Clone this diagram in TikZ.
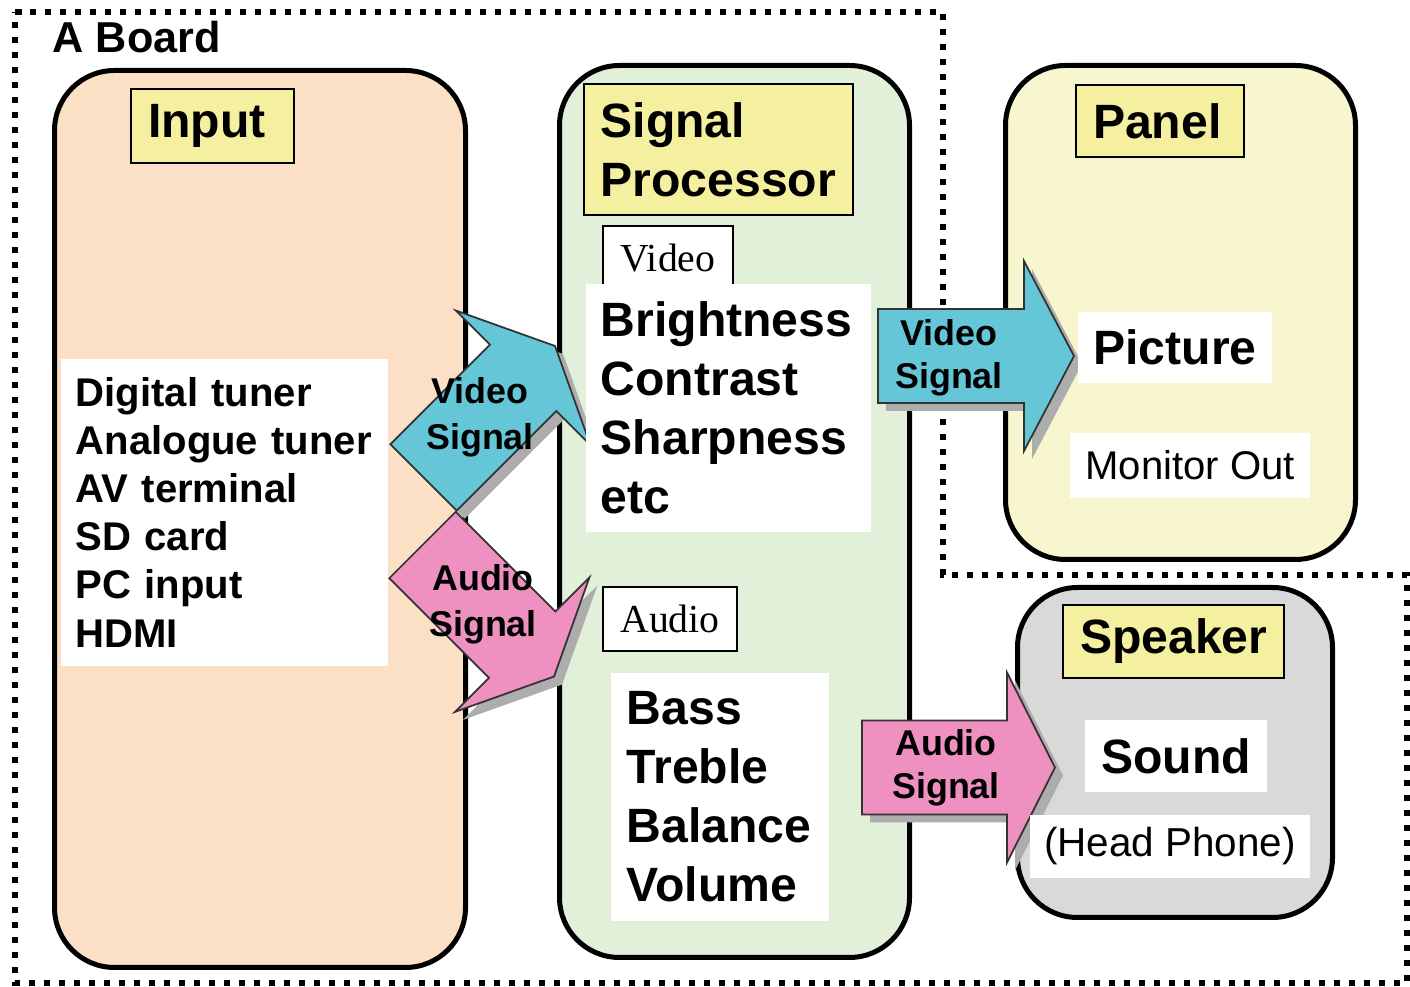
\documentclass[tikz,border=0pt]{standalone}
\usepackage{fontspec}
\setmainfont{Liberation Sans}
\newfontfamily\serifface{Liberation Serif}
\tikzset{
    board/.style={
        draw, line width=0.5mm, rounded corners=6mm,
        anchor=north west, inner sep=0pt
    },
    board_frame/.style={
        line width=0.6mm, dash pattern=on 0.65mm off 0.85mm
    },
    tagbox/.style={
        draw, line width=0.6pt, fill=tag_yellow,
        anchor=north west, inner xsep=1.7mm, inner ysep=0pt,
        align=left, font=\bfseries\fontsize{13.7}{16.8}\selectfont
    },
    listbox/.style={
        fill=white, anchor=north west, inner xsep=1.5mm, inner ysep=0pt,
        align=left, font=\bfseries\fontsize{13.7}{16.8}\selectfont
    },
    itembox/.style={
        fill=white, inner sep=0pt, align=center,
        font=\bfseries\fontsize{13.7}{16.8}\selectfont
    },
    notebox/.style={
        itembox, font=\fontsize{11.4}{13.7}\selectfont
    },
    kindbox/.style={
        itembox, draw, line width=0.6pt,
        font=\serifface\fontsize{11.3}{13.5}\selectfont
    },
    siglabel/.style={
        align=center, inner sep=0pt,
        font=\bfseries\fontsize{10.2}{12.2}\selectfont
    },
    pics/sigarrow/.style n args={3}{code={
        \path[#3] (0,-47) -- (#1,-47) -- (#1,-95) -- ({#1+#2},0)
            -- (#1,95) -- (#1,47) -- (0,47) -- cycle;
    }},
    video_arrow/.style={fill=video_cyan, draw=black!80, line width=0.5pt},
    audio_arrow/.style={fill=audio_pink, draw=black!80, line width=0.5pt},
    arrow_shadow/.style={fill=black!32, draw=none}
}
\definecolor{input_peach}{RGB}{251,224,197}
\definecolor{proc_green}{RGB}{226,240,218}
\definecolor{panel_yellow}{RGB}{247,246,206}
\definecolor{speaker_gray}{RGB}{217,217,217}
\definecolor{tag_yellow}{RGB}{244,240,160}
\definecolor{video_cyan}{RGB}{100,198,214}
\definecolor{audio_pink}{RGB}{238,145,192}

\begin{document}
\begin{tikzpicture}[x=0.1mm, y=-0.1mm]
    \useasboundingbox (0,0) rectangle (1410,987);

    % --- Marco de la placa A ---
    \draw[board_frame] (15,12) -- (943,12) -- (943,575) -- (1407,575)
        -- (1407,983) -- (15,983) -- cycle;
    \node[anchor=base west, inner sep=0pt,
        font=\bfseries\fontsize{12.3}{14}\selectfont] (aboard) at (52,53) {A Board};

    % --- Bloques principales ---
    \node[board, fill=input_peach, minimum width=41.1mm, minimum height=89.7mm]
        (input) at (52,68) {};
    \node[board, fill=proc_green, minimum width=35mm, minimum height=89.2mm]
        (proc) at (557,63) {};
    \node[board, fill=panel_yellow, minimum width=35mm, minimum height=49.4mm]
        (panel) at (1003,63) {};
    \node[board, fill=speaker_gray, minimum width=31.5mm, minimum height=33mm]
        (speaker) at (1015,585) {};

    % --- Titulos ---
    \node[tagbox, text width=12.9mm, minimum height=7.4mm] (input_tag) at (130,88) {Input};
    \node[tagbox, text width=23.6mm, inner xsep=1.65mm, minimum height=13.1mm]
        (proc_tag) at (583,83) {Signal\\Processor};
    \node[tagbox, text width=13.4mm, minimum height=7.2mm] (panel_tag) at (1075,84) {Panel};
    \node[tagbox, text width=18.7mm, inner xsep=1.7mm, minimum height=7.3mm]
        (speaker_tag) at (1062,604) {Speaker};

    % --- Flechas de senal (sombra primero) ---
    \pic[rotate=45] at (431.5,485.5) {sigarrow={141}{45}{arrow_shadow}};
    \pic[rotate=-45] at (430.5,553) {sigarrow={141}{45}{arrow_shadow}};
    \pic at (886,364) {sigarrow={146}{50}{arrow_shadow}};
    \pic at (870,775.5) {sigarrow={145}{48}{arrow_shadow}};

    \pic[rotate=45] at (423.5,477.5) {sigarrow={141}{45}{video_arrow}};
    \pic[rotate=-45] at (422.5,545) {sigarrow={141}{45}{audio_arrow}};
    \pic at (878,356) {sigarrow={146}{50}{video_arrow}};
    \pic at (862,767.5) {sigarrow={145}{48}{audio_arrow}};

    \node[siglabel, font=\bfseries\fontsize{10.2}{13}\selectfont]
        (in_video) at (480,417) {Video\\Signal};
    \node[siglabel, font=\bfseries\fontsize{10.2}{13}\selectfont]
        (in_audio) at (483,604) {Audio\\Signal};
    \node[siglabel] (out_video) at (949,358) {Video\\Signal};
    \node[siglabel] (out_audio) at (946,768) {Audio\\Signal};

    % --- Contenido de cada bloque ---
    \node[listbox, text width=29.7mm, minimum height=30.7mm,
        font=\bfseries\fontsize{11.4}{13.7}\selectfont] (sources) at (60,358)
        {Digital tuner\\Analogue tuner\\AV terminal\\SD card\\PC input\\HDMI};

    \node[kindbox, minimum width=13mm, minimum height=6.4mm] (video_kind) at (668,258) {Video};
    \node[listbox, text width=25.5mm, minimum height=24.8mm] (video_adj) at (585,283)
        {Brightness\\Contrast\\Sharpness\\etc};
    \node[kindbox, minimum width=13.4mm, minimum height=6.4mm] (audio_kind) at (670,619) {Audio};
    \node[listbox, text width=18.6mm, inner xsep=1.6mm, minimum height=24.8mm]
        (audio_adj) at (610,672) {Bass\\Treble\\Balance\\Volume};

    \node[itembox, minimum width=19.4mm, minimum height=7.1mm] (picture) at (1175,347.5) {Picture};
    \node[notebox, minimum width=24mm, minimum height=6.5mm] (monitor) at (1190,465.5) {Monitor Out};
    \node[itembox, minimum width=18.2mm, minimum height=7.2mm] (sound) at (1176,756) {Sound};
    \node[notebox, minimum width=28mm, minimum height=6.3mm,
        font=\fontsize{11.5}{13.7}\selectfont] (phone) at (1170,846.5) {(Head Phone)};

\end{tikzpicture}
\end{document}
